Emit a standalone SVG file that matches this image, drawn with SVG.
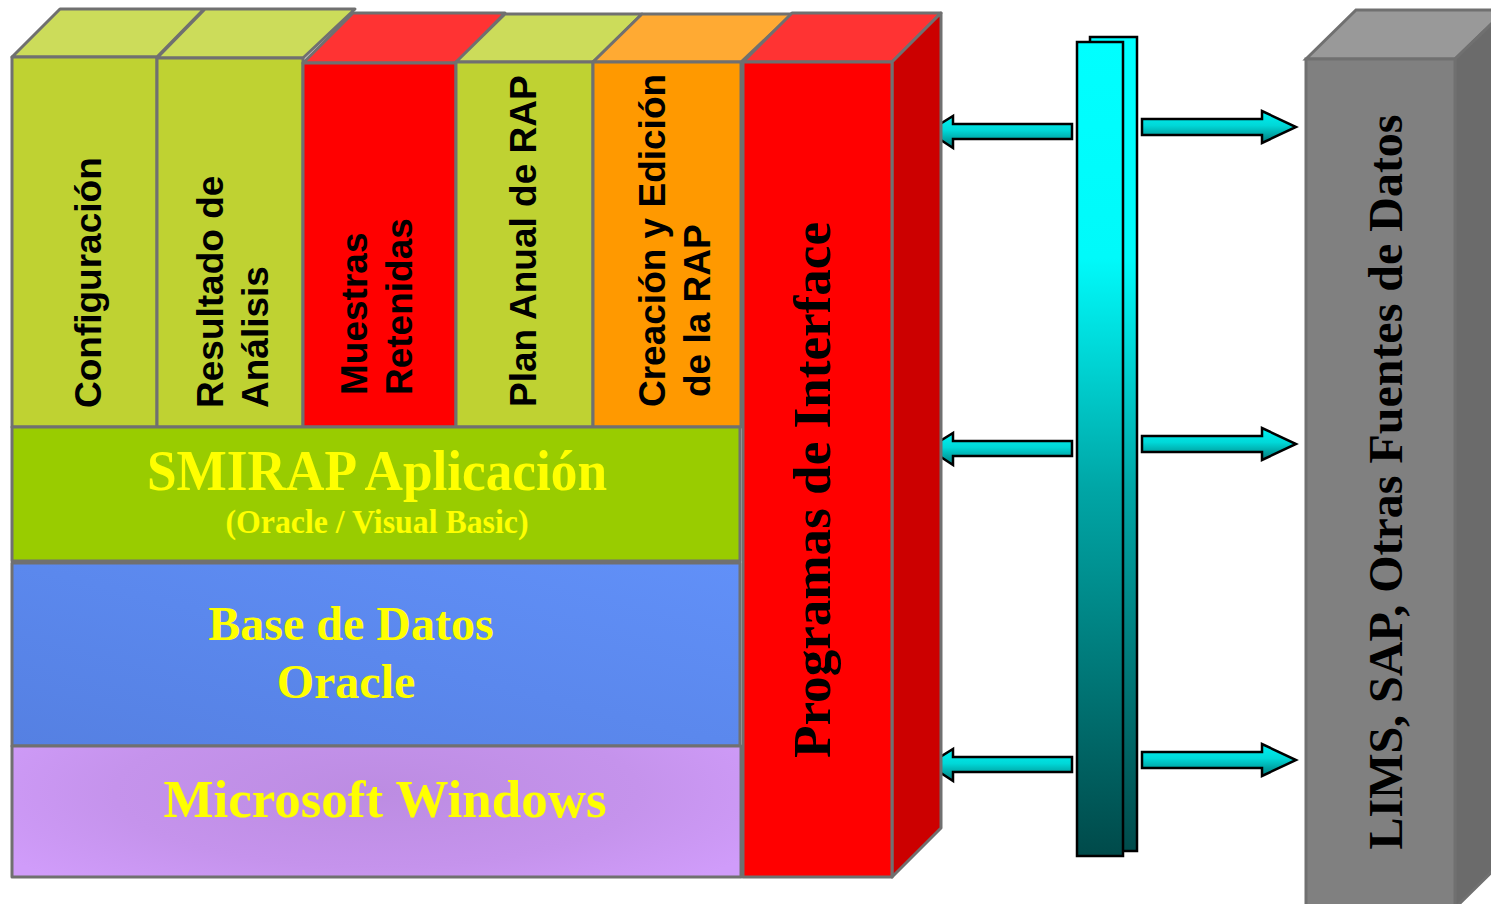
<svg xmlns="http://www.w3.org/2000/svg" width="1491" height="904" viewBox="0 0 1491 904">
<style>
.edge{stroke:#707070;stroke-width:3;stroke-linejoin:round}
.lime{fill:#BFD232}.limeTop{fill:#CCDC5A}
.red{fill:#FF0000}.redTop{fill:#FF3333}.redSide{fill:#CC0000}
.orange{fill:#FF9900}.orangeTop{fill:#FFAA33}
.lbl{font-family:"Liberation Sans",Arial,sans-serif;font-weight:bold;font-size:37px;fill:#000}
.ser{font-family:"Liberation Serif","Times New Roman",serif;font-weight:bold}
.yel{fill:#FFFF00}
.arrow{fill:url(#arrowGrad);stroke:#000;stroke-width:2.5;stroke-linejoin:miter}
.bar{stroke:#000;stroke-width:2.5}
</style>
<defs>
<linearGradient id="arrowGrad" x1="0" y1="0" x2="0" y2="1">
<stop offset="0" stop-color="#00F2F2"/>
<stop offset="0.45" stop-color="#00D8D8"/>
<stop offset="1" stop-color="#007A7A"/>
</linearGradient>
<linearGradient id="barGrad" gradientUnits="userSpaceOnUse" x1="0" y1="37" x2="0" y2="856">
<stop offset="0" stop-color="#00FFFF"/>
<stop offset="0.27" stop-color="#00FAFA"/>
<stop offset="0.55" stop-color="#00A6A6"/>
<stop offset="1" stop-color="#004A4A"/>
</linearGradient>
<linearGradient id="dbGrad" x1="0" y1="1" x2="1" y2="0">
<stop offset="0" stop-color="#5580E2"/>
<stop offset="1" stop-color="#6190F8"/>
</linearGradient>
<radialGradient id="winGrad" cx="0.5" cy="0.35" r="0.6" gradientTransform="translate(0.5 0.35) scale(1 1.6) translate(-0.5 -0.35)">
<stop offset="0" stop-color="#BC8CE2"/>
<stop offset="0.6" stop-color="#C593EC"/>
<stop offset="1" stop-color="#D09CFA"/>
</radialGradient>
</defs>

<g id="connectors">
<polygon class="arrow" points="1072,124 953,124 953,116 928,131.5 953,148 953,139 1072,139"/>
<polygon class="arrow" points="1072,441 953,441 953,433 928,448.5 953,465 953,456 1072,456"/>
<polygon class="arrow" points="1072,757 953,757 953,749 928,764.5 953,781 953,772 1072,772"/>
<polygon class="arrow" points="1142,119 1262,119 1262,111 1296,127 1262,143 1262,135 1142,135"/>
<polygon class="arrow" points="1142,436 1262,436 1262,428 1296,444 1262,460 1262,452 1142,452"/>
<polygon class="arrow" points="1142,752 1262,752 1262,744 1296,760 1262,776 1262,768 1142,768"/>
</g>

<g id="configuracion">
<polygon class="limeTop edge" points="12,57 60,9 204,9 157,57"/>
<rect class="lime edge" x="12" y="57" width="145" height="370"/>
<text class="lbl" transform="translate(101,408) rotate(-90)">Configuración</text>
</g>

<g id="resultado">
<polygon class="limeTop edge" points="157,58 205,9 355,9 303,58"/>
<rect class="lime edge" x="157" y="58" width="146" height="369"/>
<text class="lbl" transform="translate(223,408) rotate(-90)">Resultado de</text>
<text class="lbl" transform="translate(268,408) rotate(-90)">Análisis</text>
</g>

<g id="muestras">
<polygon class="redTop edge" points="303,63 353,13 505,13 456,63"/>
<rect class="red edge" x="303" y="63" width="153" height="364"/>
<text class="lbl" transform="translate(367,395) rotate(-90)">Muestras</text>
<text class="lbl" transform="translate(412,395) rotate(-90)">Retenidas</text>
</g>

<g id="plan">
<polygon class="limeTop edge" points="456,62 505,14 642,14 593,62"/>
<rect class="lime edge" x="456" y="62" width="137" height="365"/>
<text class="lbl" transform="translate(536,407) rotate(-90)">Plan Anual de RAP</text>
</g>

<g id="creacion">
<polygon class="orangeTop edge" points="593,62 642,14 792,14 741,62"/>
<rect class="orange edge" x="593" y="62" width="148" height="365"/>
<text class="lbl" transform="translate(665,407) rotate(-90)">Creación y Edición</text>
<text class="lbl" transform="translate(710,397) rotate(-90)">de la RAP</text>
</g>

<g id="smirap">
<rect class="edge" fill="#99CC00" x="12" y="427" width="728" height="134"/>
<text class="ser yel" x="377" y="490" font-size="56" text-anchor="middle" textLength="460" lengthAdjust="spacingAndGlyphs">SMIRAP Aplicación</text>
<text class="ser yel" x="377" y="533" font-size="33" text-anchor="middle" textLength="303" lengthAdjust="spacingAndGlyphs">(Oracle / Visual Basic)</text>
</g>

<g id="basedatos">
<rect class="edge" fill="url(#dbGrad)" x="12" y="563" width="728" height="183"/>
<text class="ser yel" x="351" y="640" font-size="48" text-anchor="middle">Base de Datos</text>
<text class="ser yel" x="346" y="698" font-size="48" text-anchor="middle">Oracle</text>
</g>

<g id="windows">
<rect class="edge" fill="url(#winGrad)" x="12" y="746" width="729" height="131"/>
<text class="ser yel" x="385" y="817" font-size="53" text-anchor="middle">Microsoft Windows</text>
</g>

<g id="programas">
<polygon class="redTop edge" points="743,62 792,13 941,13 892,62"/>
<polygon class="redSide edge" points="892,62 941,13 941,828 892,877"/>
<rect class="red edge" x="743" y="62" width="149" height="815"/>
<text class="ser" fill="#000" font-size="53" text-anchor="middle" textLength="536" lengthAdjust="spacingAndGlyphs" transform="translate(830,490) rotate(-90)">Programas de Interface</text>
</g>

<g id="bus">
<rect class="bar" fill="url(#barGrad)" x="1090" y="37" width="47" height="814"/>
<rect class="bar" fill="url(#barGrad)" x="1077" y="42" width="46" height="814"/>
</g>

<g id="lims">
<polygon fill="#999999" stroke="#707070" stroke-width="3" points="1306,59 1356,10 1506,10 1455,59"/>
<polygon fill="#6B6B6B" stroke="#707070" stroke-width="3" points="1455,59 1506,10 1506,858 1455,908"/>
<rect fill="#808080" stroke="#707070" stroke-width="3" x="1306" y="59" width="149" height="849"/>
<text class="ser" fill="#000" font-size="48" text-anchor="middle" textLength="735" lengthAdjust="spacingAndGlyphs" transform="translate(1402,482) rotate(-90)">LIMS, SAP, Otras Fuentes de Datos</text>
</g>
</svg>
